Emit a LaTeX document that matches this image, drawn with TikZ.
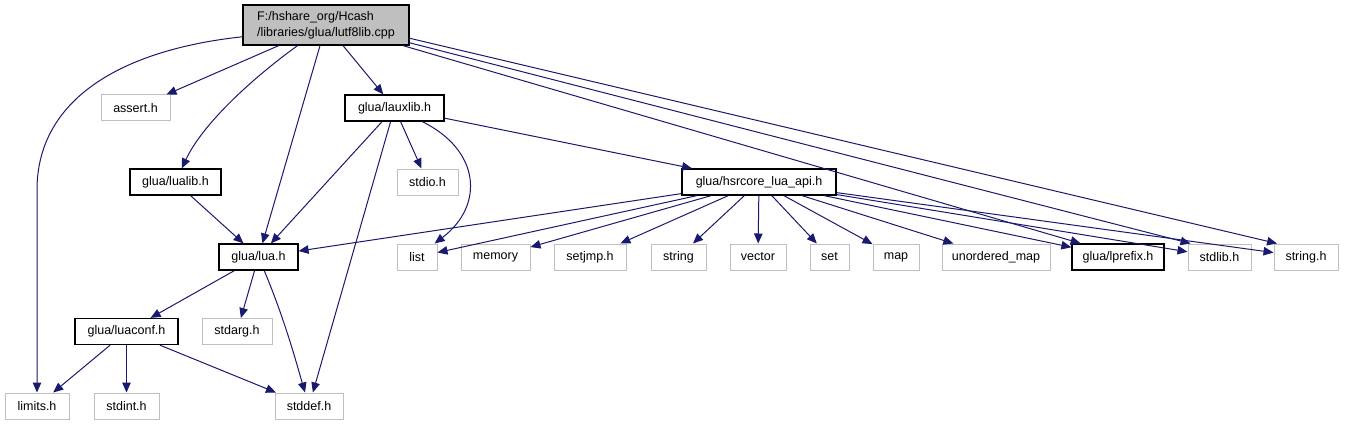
\documentclass[tikz,border=0pt]{standalone}
\usepackage{fontspec}
\setmainfont{Liberation Sans}
\usetikzlibrary{arrows.meta}

\begin{document}
\begin{tikzpicture}[x=1pt,y=-1pt,font=\fontsize{12.5}{16}\selectfont,
	hdr/.style={draw=black,line width=1.2pt,fill=white,minimum height=26pt,inner sep=0pt},
	sys/.style={draw=boxgray,line width=1pt,fill=white,minimum height=26pt,inner sep=0pt},
	dep/.style={draw=depblue,line width=1pt,-{Triangle[length=10pt,width=8.5pt]}}]
	
	% Farben
	\definecolor{boxgray}{RGB}{191, 191, 191}   % Systemheader
	\definecolor{rootgray}{RGB}{191, 191, 191}  % Wurzel
	\definecolor{depblue}{RGB}{25, 25, 112}     % Pfeile
	
	\useasboundingbox (0,0) rectangle (1359,425);
	
	% Wurzel
	\node[hdr, fill=rootgray, minimum width=166pt, minimum height=40pt, align=left] (root) at (326,25)
	{F:/hshare\_org/Hcash\\/libraries/glua/lutf8lib.cpp};
	
	% Ebene 1
	\node[sys, minimum width=69pt] (assert) at (135.5,108) {assert.h};
	\node[hdr, minimum width=99pt] (lauxlib) at (394.5,108) {glua/lauxlib.h};
	
	% Ebene 2
	\node[hdr, minimum width=91pt] (lualib) at (175.5,182) {glua/lualib.h};
	\node[sys, minimum width=61pt] (stdio) at (427.5,182) {stdio.h};
	\node[hdr, minimum width=154pt] (hsrcore) at (759,182) {glua/hsrcore\_lua\_api.h};
	
	% Ebene 3
	\node[hdr, minimum width=79pt] (lua) at (258.5,257) {glua/lua.h};
	\node[sys, minimum width=40pt] (list) at (417,257) {list};
	\node[sys, minimum width=69pt] (memory) at (495.5,257) {memory};
	\node[sys, minimum width=72pt] (setjmp) at (590,257) {setjmp.h};
	\node[sys, minimum width=55pt] (string) at (678.5,257) {string};
	\node[sys, minimum width=56pt] (vector) at (758,257) {vector};
	\node[sys, minimum width=39pt] (set) at (829.5,257) {set};
	\node[sys, minimum width=46pt] (map) at (896,257) {map};
	\node[sys, minimum width=108pt] (unordered) at (996,257) {unordered\_map};
	\node[hdr, minimum width=92pt] (lprefix) at (1118,257) {glua/lprefix.h};
	\node[sys, minimum width=63pt] (stdlib) at (1219.5,257) {stdlib.h};
	\node[sys, minimum width=64pt] (stringh) at (1306,257) {string.h};
	
	% Ebene 4
	\node[hdr, minimum width=103pt] (luaconf) at (126.5,331.5) {glua/luaconf.h};
	\node[sys, minimum width=70pt] (stdarg) at (237,331.5) {stdarg.h};
	
	% Ebene 5
	\node[sys, minimum width=64pt] (limits) at (37,406) {limits.h};
	\node[sys, minimum width=65pt] (stdint) at (126.5,406) {stdint.h};
	\node[sys, minimum width=68pt] (stddef) at (309,406) {stddef.h};
	
	% Kanten von der Wurzel
	\draw[dep] (root.188) .. controls (120,50) and (37,100) .. (37,190) -- (limits);
	\draw[dep] (root) -- (assert);
	\draw[dep] (root) .. controls (250,80) and (202,125) .. (lualib);
	\draw[dep] (root) -- (lua);
	\draw[dep] (root) -- (lauxlib);
	\draw[dep] (root.-15) -- (lprefix.160);
	\draw[dep] (root.-12) -- (stdlib.155);
	\draw[dep] (root.-9) -- (stringh.155);
	
	% Kanten von lauxlib.h
	\draw[dep] (lauxlib) -- (lua);
	\draw[dep] (lauxlib) -- (stddef);
	\draw[dep] (lauxlib) -- (stdio);
	\draw[dep] (lauxlib) .. controls (480,150) and (485,205) .. (list);
	\draw[dep] (lauxlib) -- (hsrcore);
	
	% Kanten von lualib.h
	\draw[dep] (lualib) -- (lua);
	
	% Kanten von hsrcore_lua_api.h
	\draw[dep] (hsrcore) -- (lua);
	\draw[dep] (hsrcore) -- (list);
	\draw[dep] (hsrcore) -- (memory);
	\draw[dep] (hsrcore) -- (setjmp);
	\draw[dep] (hsrcore) -- (string);
	\draw[dep] (hsrcore) -- (vector);
	\draw[dep] (hsrcore) -- (set);
	\draw[dep] (hsrcore) -- (map);
	\draw[dep] (hsrcore) -- (unordered);
	\draw[dep] (hsrcore) -- (lprefix);
	\draw[dep] (hsrcore) -- (stdlib);
	\draw[dep] (hsrcore) -- (stringh);
	
	% Kanten von lua.h
	\draw[dep] (lua) -- (luaconf);
	\draw[dep] (lua) -- (stdarg);
	\draw[dep] (lua) .. controls (285,320) and (297,365) .. (stddef);
	
	% Kanten von luaconf.h
	\draw[dep] (luaconf) -- (limits);
	\draw[dep] (luaconf) -- (stdint);
	\draw[dep] (luaconf) -- (stddef);
\end{tikzpicture}
\end{document}
